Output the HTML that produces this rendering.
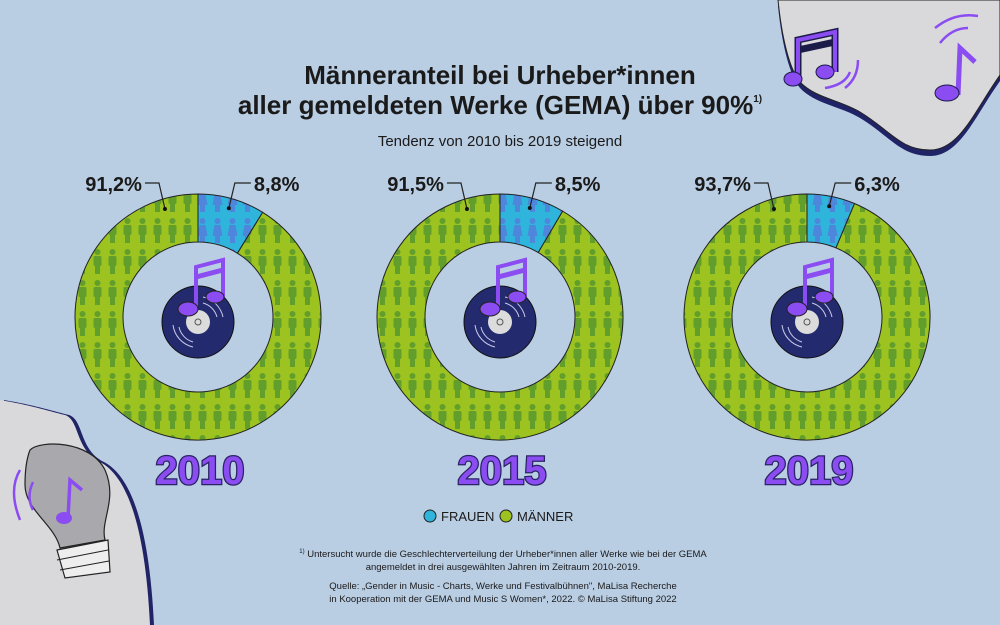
<!DOCTYPE html>
<html><head><meta charset="utf-8"><style>
html,body{margin:0;padding:0;background:#b9cde3;}
svg{display:block;font-family:"Liberation Sans",sans-serif;}
</style></head><body>
<svg id="chart" width="1000" height="625" viewBox="0 0 1000 625" xmlns="http://www.w3.org/2000/svg">
<defs>
<pattern id="menPat" width="15" height="31" patternUnits="userSpaceOnUse">
<rect width="15" height="31" fill="#9cc31f"/>
<circle cx="7.5" cy="4" r="3" fill="#629e2c"/>
<rect x="3.5" y="8" width="8" height="10" rx="1.5" fill="#629e2c"/>
<rect x="5" y="17" width="5" height="9" fill="#629e2c"/>
</pattern>
<pattern id="womenPat" width="15" height="31" patternUnits="userSpaceOnUse">
<rect width="15" height="31" fill="#2fb4dc"/>
<circle cx="7.5" cy="4" r="3" fill="#4e86dc"/>
<path d="M4.5 8 H10.5 L12.5 19 H2.5 Z" fill="#4e86dc"/>
<rect x="5" y="18" width="5" height="8" fill="#4e86dc"/>
</pattern>
</defs>
<!-- top-right blob -->
<g>
<path d="M778 0 C782 40 790 70 800 82 C815 98 840 100 860 112 C890 130 900 150 930 150 C960 150 975 110 1000 75 L1000 0 Z" fill="#202466" transform="translate(0,6)"/>
<path d="M778 0 C782 40 790 70 800 82 C815 98 840 100 860 112 C890 130 900 150 930 150 C960 150 975 110 1000 75 L1000 0 Z" fill="#d9d9dc" stroke="#222" stroke-width="1"/>
<path d="M798 80 V40 L835 32 V72 M798 50 L835 42" stroke="#1b1b4a" stroke-width="7" fill="none"/>
<path d="M798 80 V40 L835 32 V72" stroke="#8b4cf2" stroke-width="4" fill="none"/>
<ellipse cx="793" cy="79" rx="9" ry="7" fill="#8b4cf2" stroke="#1b1b4a"/>
<ellipse cx="825" cy="72" rx="9" ry="7" fill="#8b4cf2" stroke="#1b1b4a"/>
<path d="M825 88 Q845 85 850 72 M845 88 Q858 78 858 60" stroke="#8b4cf2" stroke-width="2.5" fill="none"/>
<path d="M958 95 L960 48 L975 62" stroke="#8b4cf2" stroke-width="5" fill="none"/>
<ellipse cx="947" cy="93" rx="12" ry="8" fill="#8b4cf2" stroke="#1b1b4a"/>
<path d="M935 28 Q955 12 978 16 M940 43 Q952 28 968 28" stroke="#8b4cf2" stroke-width="2.5" fill="none"/>
</g>
<!-- bottom-left blob -->
<g>
<path d="M0 400 C30 405 45 410 65 415 C80 420 75 450 100 462 C125 475 145 520 150 625 L0 625 Z" fill="#202466" transform="translate(4,0)"/>
<path d="M0 400 C30 405 45 410 65 415 C80 420 75 450 100 462 C125 475 145 520 150 625 L0 625 Z" fill="#d9d9dc"/>
<path d="M30 450 C40 440 90 440 105 470 C118 500 100 520 105 540 L60 548 C55 525 25 510 25 485 C25 465 28 455 30 450 Z" fill="#a9a9ad" stroke="#222" stroke-width="1.2"/>
<path d="M57 550 L108 540 L110 572 L65 578 Z" fill="#eee" stroke="#222" stroke-width="1.2"/>
<path d="M57 560 L108 550 M60 570 L109 561" stroke="#222"/>
<path d="M68 518 L70 480 L82 490" stroke="#8b4cf2" stroke-width="3.5" fill="none"/>
<ellipse cx="64" cy="518" rx="8" ry="6" fill="#8b4cf2"/>
<path d="M20 470 Q8 490 20 520 M33 482 Q26 497 33 510" stroke="#8b4cf2" stroke-width="2.5" fill="none"/>
</g>
<text x="500" y="84" text-anchor="middle" font-size="26" font-weight="bold" fill="#1a1a1a">Männeranteil bei Urheber*innen</text>
<text x="500" y="114" text-anchor="middle" font-size="26" font-weight="bold" fill="#1a1a1a">aller gemeldeten Werke (GEMA) über 90%<tspan font-size="10" dy="-12">1)</tspan></text>
<text x="500" y="146" text-anchor="middle" font-size="15" fill="#1a1a1a">Tendenz von 2010 bis 2019 steigend</text>
<g id="donuts"></g>
<g>
<circle cx="430" cy="516" r="6" fill="#2fb4dc" stroke="#222"/>
<text x="441" y="521" font-size="13" fill="#1a1a1a">FRAUEN</text>
<circle cx="506" cy="516" r="6" fill="#9cc31f" stroke="#222"/>
<text x="517" y="521" font-size="13" fill="#1a1a1a">MÄNNER</text>
</g>
<g font-size="9.5" fill="#1a1a1a" text-anchor="middle">
<text x="503" y="557"><tspan font-size="6" dy="-4">1)</tspan><tspan dy="4"> Untersucht wurde die Geschlechterverteilung der Urheber*innen aller Werke wie bei der GEMA</tspan></text>
<text x="503" y="570">angemeldet in drei ausgewählten Jahren im Zeitraum 2010-2019.</text>
<text x="503" y="589">Quelle: „Gender in Music - Charts, Werke und Festivalbühnen", MaLisa Recherche</text>
<text x="503" y="602">in Kooperation mit der GEMA und Music S Women*, 2022. © MaLisa Stiftung 2022</text>
</g>
</svg>
<script>
const years = ["2010", "2015", "2019"];
const womenShare = [8.8, 8.5, 6.3];
const menShare = [91.2, 91.5, 93.7];
const womenLabels = ["8,8%", "8,5%", "6,3%"];
const menLabels = ["91,2%", "91,5%", "93,7%"];

const NS = "http://www.w3.org/2000/svg";
const centers = [198, 500, 807];
const cy = 317, R = 123, r = 75;
function pt(rad, angDeg, cx) {
  const a = angDeg * Math.PI / 180;
  return [cx + rad * Math.sin(a), cy - rad * Math.cos(a)];
}
function arc(cx, a0, a1) {
  const large = (a1 - a0) > 180 ? 1 : 0;
  const p0 = pt(R, a0, cx), p1 = pt(R, a1, cx), q1 = pt(r, a1, cx), q0 = pt(r, a0, cx);
  return `M${p0} A${R} ${R} 0 ${large} 1 ${p1} L${q1} A${r} ${r} 0 ${large} 0 ${q0} Z`;
}
function mk(tag, attrs, parent) {
  const e = document.createElementNS(NS, tag);
  for (const k in attrs) e.setAttribute(k, attrs[k]);
  parent.appendChild(e);
  return e;
}
const root = document.getElementById('donuts');
years.forEach((y, i) => {
  const cx = centers[i];
  const g = mk('g', {}, root);
  
  
  const wAng = womenShare[i] / 100 * 360;
  const mAng = menShare[i] / 100 * 360;
  const men = mk('path', { d: arc(cx, wAng, Math.min(wAng + mAng, 359.99)), fill: 'url(#menPat)', stroke: '#222', 'stroke-width': 1 }, g);
  
  
  const wom = mk('path', { d: arc(cx, 0, wAng), fill: 'url(#womenPat)', stroke: '#222', 'stroke-width': 1 }, g);
  
  
  // center record
  mk('circle', { cx: cx, cy: cy + 5, r: 36, fill: '#232a6e', stroke: '#111', 'stroke-width': 1 }, g);
  mk('path', { d: `M${cx - 25} ${cy + 8} A26 26 0 0 0 ${cx - 5} ${cy + 30} M${cx - 19} ${cy + 10} A20 20 0 0 0 ${cx - 5} ${cy + 25} M${cx + 25} ${cy} A26 26 0 0 0 ${cx + 5} ${cy - 20} M${cx + 19} ${cy} A20 20 0 0 0 ${cx + 5} ${cy - 14}`, stroke: '#c8c8e8', 'stroke-width': 1, fill: 'none' }, g);
  mk('circle', { cx: cx, cy: cy + 5, r: 12, fill: '#dcdcdc' }, g);
  mk('circle', { cx: cx, cy: cy + 5, r: 3, fill: 'none', stroke: '#555' }, g);
  mk('path', { d: `M${cx - 2} ${cy - 6} V${cy - 50} L${cx + 25} ${cy - 57} V${cy - 20}`, stroke: '#8b4cf2', 'stroke-width': 4, fill: 'none' }, g);
  mk('path', { d: `M${cx - 2} ${cy - 40} L${cx + 25} ${cy - 47}`, stroke: '#8b4cf2', 'stroke-width': 5 }, g);
  mk('ellipse', { cx: cx - 10, cy: cy - 8, rx: 10, ry: 7, fill: '#8b4cf2', stroke: '#222' }, g);
  mk('ellipse', { cx: cx + 17, cy: cy - 20, rx: 9, ry: 6, fill: '#8b4cf2', stroke: '#222' }, g);
  // leader women
  const wp = pt(113, wAng / 2, cx);
  mk('path', { d: `M${wp[0]} ${wp[1]} L${wp[0] + 6} 183 L${wp[0] + 22} 183`, stroke: '#222', fill: 'none', 'stroke-width': 1.2 }, g);
  mk('circle', { cx: wp[0], cy: wp[1], r: 2, fill: '#111' }, g);
  const wt = mk('text', { x: wp[0] + 25, y: 191, 'font-size': 20, 'font-weight': 'bold', fill: '#1a1a1a' }, g);
  
  
  wt.textContent = womenLabels[i];
  // leader men
  const mp = pt(113, -17, cx);
  mk('path', { d: `M${mp[0]} ${mp[1]} L${mp[0] - 6} 183 L${mp[0] - 20} 183`, stroke: '#222', fill: 'none', 'stroke-width': 1.2 }, g);
  mk('circle', { cx: mp[0], cy: mp[1], r: 2, fill: '#111' }, g);
  const mt = mk('text', { x: mp[0] - 23, y: 191, 'font-size': 20, 'font-weight': 'bold', fill: '#1a1a1a', 'text-anchor': 'end' }, g);
  
  
  mt.textContent = menLabels[i];
  // year
  const yt = mk('text', { x: cx + 2, y: 484, 'text-anchor': 'middle', 'font-size': 40, 'font-weight': 'bold', fill: '#8b4cf2', stroke: '#2a2466', 'stroke-width': 2.5, 'paint-order': 'stroke' }, g);
  
  
  yt.textContent = y;
});
</script>
</body></html>
